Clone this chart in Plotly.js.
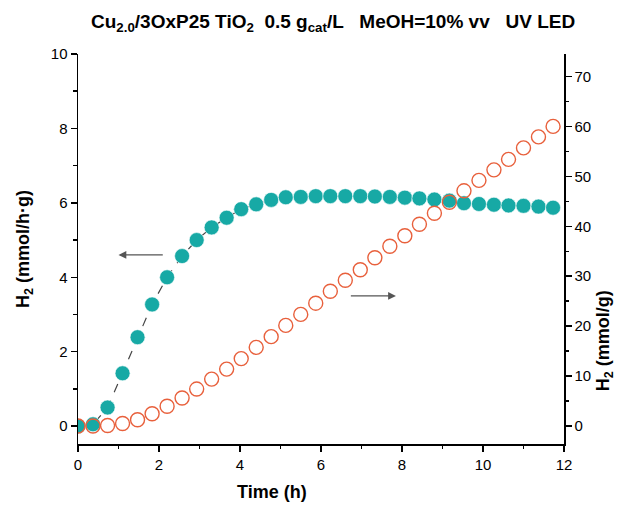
<!DOCTYPE html>
<html>
<head>
<meta charset="utf-8">
<script src="https://cdn.plot.ly/plotly-3.0.1.min.js"></script>
<style>html,body{margin:0;padding:0;background:#fff;}#chart{width:618px;height:506px;}</style>
</head>
<body>
<div id="chart"></div>
<script>
// Time (h)
const timeH = [0, 0.37, 0.73, 1.1, 1.47, 1.83, 2.2, 2.57, 2.93, 3.3, 3.67, 4.03, 4.4, 4.77, 5.13, 5.5, 5.87, 6.23, 6.6, 6.97, 7.33, 7.7, 8.07, 8.43, 8.8, 9.17, 9.53, 9.9, 10.27, 10.63, 11.0, 11.37, 11.73];
// H2 rate (mmol/h·g), left axis
const rateH2 = [0, 0.05, 0.5, 1.42, 2.39, 3.27, 4.0, 4.57, 5.0, 5.34, 5.6, 5.83, 5.96, 6.08, 6.15, 6.16, 6.18, 6.18, 6.18, 6.18, 6.17, 6.16, 6.14, 6.12, 6.09, 6.06, 5.99, 5.97, 5.95, 5.93, 5.92, 5.9, 5.87];
// cumulative H2 (mmol/g), right axis
const cumH2 = [0, 0, 0.1, 0.5, 1.25, 2.45, 3.95, 5.6, 7.4, 9.4, 11.4, 13.5, 15.75, 17.9, 20.15, 22.35, 24.6, 27.0, 29.2, 31.3, 33.7, 36.0, 38.1, 40.4, 42.6, 44.8, 47.1, 49.2, 51.3, 53.4, 55.7, 57.9, 60.0];

const FONT = 'Liberation Sans, Arial, sans-serif';

const traces = [
  {
    x: timeH, y: rateH2, yaxis: 'y', type: 'scatter', mode: 'lines+markers',
    line: {color: '#444', width: 1.2, dash: 'dash'},
    marker: {size: 15, color: '#17a9a5', line: {color: '#ffffff', width: 0.6}},
    showlegend: false, hoverinfo: 'skip'
  },
  {
    x: timeH, y: cumH2, yaxis: 'y2', type: 'scatter', mode: 'markers',
    marker: {size: 14, color: 'rgba(255,255,255,0)', line: {color: '#e8603c', width: 1.4}},
    showlegend: false, hoverinfo: 'skip'
  }
];

const axisCommon = {
  showline: true, linecolor: '#000', linewidth: 1.5,
  ticks: 'outside', ticklen: 6, tickwidth: 1.5, tickcolor: '#000',
  showgrid: false, zeroline: false,
  tickfont: {family: FONT, size: 15, color: '#000'},
  minor: {ticks: 'outside', ticklen: 3.5, tickwidth: 1.5, tickcolor: '#000', showgrid: false}
};

const layout = {
  width: 618, height: 506,
  margin: {l: 77.5, r: 54, t: 54, b: 62},
  paper_bgcolor: '#fff', plot_bgcolor: '#fff',
  showlegend: false,
  font: {family: FONT, color: '#000'},
  title: {
    text: 'Cu<sub>2.0</sub>/3OxP25 TiO<sub>2</sub>  0.5 g<sub>cat</sub>/L   MeOH=10% vv   UV LED',
    font: {family: FONT, size: 19, color: '#000', weight: 'bold'},
    x: 0.525, xref: 'paper', xanchor: 'center', y: 0.957, yref: 'container', yanchor: 'middle'
  },
  xaxis: Object.assign({}, axisCommon, {
    range: [0, 12], tickmode: 'linear', tick0: 0, dtick: 2,
    minor: Object.assign({}, axisCommon.minor, {dtick: 1})
  }),
  yaxis: Object.assign({}, axisCommon, {
    range: [-0.48, 10], tickmode: 'linear', tick0: 0, dtick: 2,
    minor: Object.assign({}, axisCommon.minor, {dtick: 1}),
    title: {text: '<b>H<sub>2</sub> (mmol/h·g)</b>', font: {family: FONT, size: 18, color: '#000'}, standoff: 16}
  }),
  yaxis2: Object.assign({}, axisCommon, {
    overlaying: 'y', side: 'right',
    range: [-3.6, 74.5], tickmode: 'linear', tick0: 0, dtick: 10,
    minor: Object.assign({}, axisCommon.minor, {dtick: 5})
  }),
  annotations: [
    {x: 1.0, y: 4.6, ax: 2.13, ay: 4.6, xref: 'x', yref: 'y', axref: 'x', ayref: 'y',
     showarrow: true, arrowhead: 2, arrowsize: 1.3, arrowwidth: 1.2, arrowcolor: '#555', text: ''},
    {x: 7.85, y: 3.5, ax: 6.7, ay: 3.5, xref: 'x', yref: 'y', axref: 'x', ayref: 'y',
     showarrow: true, arrowhead: 2, arrowsize: 1.3, arrowwidth: 1.2, arrowcolor: '#555', text: ''},
    {text: '<b>Time (h)</b>', xref: 'paper', yref: 'paper', x: 0.4, y: -0.122,
     xanchor: 'center', yanchor: 'middle', showarrow: false,
     font: {family: FONT, size: 18, color: '#000'}},
    {text: '<b>H<sub>2</sub> (mmol/g)</b>', xref: 'paper', yref: 'paper', x: 1.0835, y: 0.265,
     xanchor: 'center', yanchor: 'middle', showarrow: false, textangle: -90,
     font: {family: FONT, size: 18, color: '#000'}}
  ]
};

Plotly.newPlot('chart', traces, layout, {displayModeBar: false, staticPlot: true});
</script>
</body>
</html>
